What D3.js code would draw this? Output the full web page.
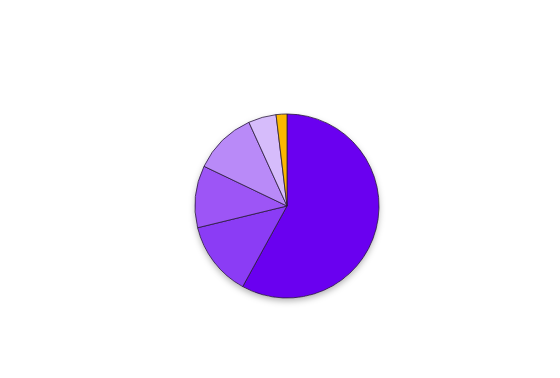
<!DOCTYPE html>
<html>
<head>
<meta charset="utf-8">
<script src="https://cdn.jsdelivr.net/npm/d3@7"></script>
<style>
  html, body { margin: 0; padding: 0; background: #fff; }
  #chart { width: 560px; height: 378px; }
</style>
</head>
<body>
<div id="chart"></div>
<script>
// slice values (percent, clockwise from 12 o'clock)
const categories = ['A', 'B', 'C', 'D', 'E', 'F'];
const values = [58, 13.2, 10.9, 11.1, 4.9, 1.9];
const colors = ['#6a00f0', '#8b3cf5', '#9d55f6', '#b98af8', '#d6bcfb', '#fbb800'];

const width = 560, height = 378;
const cx = 287, cy = 206, radius = 92;

const svg = d3.select('#chart').append('svg')
  .attr('width', width)
  .attr('height', height);

// soft shadow under the pie
const defs = svg.append('defs');
const filter = defs.append('filter')
  .attr('id', 'shadow')
  .attr('x', '-20%').attr('y', '-20%')
  .attr('width', '140%').attr('height', '140%');
filter.append('feDropShadow')
  .attr('dx', 0).attr('dy', 3)
  .attr('stdDeviation', 3)
  .attr('flood-color', '#000')
  .attr('flood-opacity', 0.3);

const data = categories.map((c, i) => ({ name: c, value: values[i], color: colors[i] }));

const pie = d3.pie().value(d => d.value).sort(null);
const arc = d3.arc().innerRadius(0).outerRadius(radius);

const g = svg.append('g')
  .attr('transform', `translate(${cx},${cy})`);

g.append('circle')
  .attr('r', radius)
  .attr('fill', '#fff')
  .attr('filter', 'url(#shadow)');

g.selectAll('path')
  .data(pie(data))
  .join('path')
  .attr('d', arc)
  .attr('fill', d => d.data.color)
  .attr('stroke', '#2a1a3a')
  .attr('stroke-width', 0.8)
  .attr('stroke-linejoin', 'round');
</script>
</body>
</html>
